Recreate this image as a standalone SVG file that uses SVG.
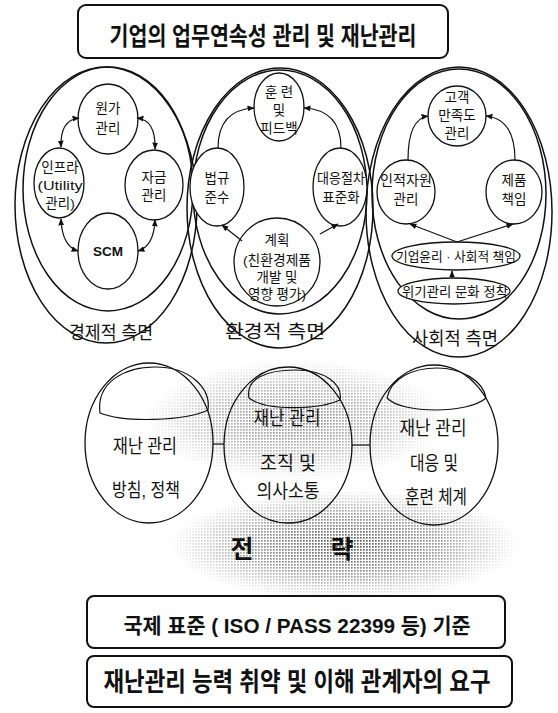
<svg xmlns="http://www.w3.org/2000/svg" width="558" height="713" viewBox="0 0 558 713">
<style>
.k{font-family:"Liberation Sans","Noto Sans CJK KR",sans-serif;fill:#111;text-anchor:middle}
.n{font-size:13.5px}
.big{stroke:#111;stroke-width:1.5;fill:none}
.nd{stroke:#111;stroke-width:1.3;fill:#fff}
.nd2{stroke:#111;stroke-width:1.3;fill:none}
.ln{stroke:#111;stroke-width:1.2;fill:none}
.bx{stroke:#111;stroke-width:2;fill:#fff}
.lbl{font-size:18px}
.lo{font-size:19px}
</style>
<defs>
<marker id="ah" viewBox="0 0 10 10" refX="9" refY="5" markerWidth="6" markerHeight="6" orient="auto-start-reverse"><path d="M0,1 L10,5 L0,9 z" fill="#111"/></marker>
<pattern id="dots" width="3" height="3" patternUnits="userSpaceOnUse"><rect width="1.7" height="1.7" fill="#555"/></pattern>
<radialGradient id="fade"><stop offset="0" stop-color="#fff" stop-opacity="1"/><stop offset="0.55" stop-color="#fff" stop-opacity="0.6"/><stop offset="1" stop-color="#fff" stop-opacity="0"/></radialGradient>
<mask id="m1"><ellipse cx="345" cy="545" rx="175" ry="55" fill="url(#fade)"/></mask>
<mask id="m2"><ellipse cx="295" cy="420" rx="150" ry="60" fill="url(#fade)"/></mask>
</defs>
<rect width="558" height="713" fill="#fff"/>

<g id="shading">
<rect x="120" y="480" width="440" height="120" fill="url(#dots)" mask="url(#m1)"/>
<rect x="130" y="350" width="340" height="140" fill="url(#dots)" mask="url(#m2)" opacity="0.7"/>
</g>

<g id="title">
<rect class="bx" x="78" y="5" width="370" height="53" rx="8"/>
<text class="k" x="263" y="45" font-size="25" font-weight="bold" textLength="307" lengthAdjust="spacingAndGlyphs">기업의 업무연속성 관리 및 재난관리</text>
</g>

<g id="economic">
<ellipse class="big" cx="106" cy="205" rx="91" ry="138"/>
<ellipse class="big" cx="108" cy="189" rx="85" ry="122"/>
<text class="k lbl" x="111" y="339" textLength="84" lengthAdjust="spacingAndGlyphs">경제적 측면</text>
</g>
<g id="environmental">
<ellipse class="big" cx="280" cy="208" rx="93" ry="140"/>
<ellipse class="big" cx="280" cy="192" rx="87" ry="122"/>
<text class="k lbl" x="275" y="338" textLength="100" lengthAdjust="spacingAndGlyphs">환경적 측면</text>
</g>
<g id="social">
<ellipse class="big" cx="459" cy="212" rx="93" ry="145"/>
<ellipse class="big" cx="459" cy="194" rx="87" ry="125"/>
<text class="k lbl" x="455" y="345" textLength="86" lengthAdjust="spacingAndGlyphs">사회적 측면</text>
</g>

<g id="wonga">
<ellipse class="nd" cx="108" cy="119" rx="30" ry="35"/>
<text class="k n" x="108" y="113">원가</text>
<text class="k n" x="108" y="133">관리</text>
</g>
<g id="infra">
<ellipse class="nd" cx="59" cy="183" rx="25" ry="35"/>
<text class="k n" x="60" y="172">인프라</text>
<text class="k n" x="60" y="190" textLength="45" lengthAdjust="spacingAndGlyphs">(Utility</text>
<text class="k n" x="60" y="208">관리)</text>
</g>
<g id="fund">
<ellipse class="nd" cx="154" cy="185" rx="29" ry="35"/>
<text class="k n" x="154" y="182">자금</text>
<text class="k n" x="154" y="200">관리</text>
</g>
<g id="scm">
<ellipse class="nd" cx="108" cy="251" rx="30" ry="38"/>
<text class="k n" x="108" y="256" font-weight="bold">SCM</text>
</g>

<g id="training">
<ellipse class="nd" cx="279" cy="107" rx="25" ry="34"/>
<text class="k n" x="279" y="97">훈 련</text>
<text class="k n" x="279" y="115">및</text>
<text class="k n" x="279" y="133">피드백</text>
</g>
<g id="law">
<ellipse class="nd" cx="217" cy="187" rx="27" ry="39"/>
<text class="k n" x="217" y="183">법규</text>
<text class="k n" x="217" y="202">준수</text>
</g>
<g id="response">
<ellipse class="nd" cx="340" cy="187" rx="27" ry="39"/>
<text class="k n" x="341" y="183" textLength="48" lengthAdjust="spacingAndGlyphs">대응절차</text>
<text class="k n" x="341" y="202">표준화</text>
</g>
<g id="plan">
<ellipse class="nd" cx="277" cy="262" rx="43" ry="44"/>
<text class="k n" x="277" y="245">계획</text>
<text class="k n" x="277" y="265" textLength="68" lengthAdjust="spacingAndGlyphs">(친환경제품</text>
<text class="k n" x="277" y="282">개발 및</text>
<text class="k n" x="277" y="299">영향 평가)</text>
</g>

<g id="customer">
<ellipse class="nd" cx="457" cy="116" rx="29" ry="30"/>
<text class="k n" x="457" y="102">고객</text>
<text class="k n" x="457" y="120">만족도</text>
<text class="k n" x="457" y="138">관리</text>
</g>
<g id="hr">
<ellipse class="nd" cx="406" cy="192" rx="29" ry="32"/>
<text class="k n" x="406" y="185" textLength="52" lengthAdjust="spacingAndGlyphs">인적자원</text>
<text class="k n" x="406" y="204">관리</text>
</g>
<g id="product">
<ellipse class="nd" cx="514" cy="192" rx="28" ry="32"/>
<text class="k n" x="514" y="185">제품</text>
<text class="k n" x="514" y="204">책임</text>
</g>
<g id="ethics">
<ellipse class="nd" cx="456" cy="256" rx="64" ry="14"/>
<text class="k" x="456" y="261" font-size="13" textLength="120" lengthAdjust="spacingAndGlyphs">기업윤리 · 사회적 책임</text>
</g>
<g id="culture">
<ellipse class="nd" cx="454" cy="291" rx="56" ry="13"/>
<text class="k" x="455" y="296" font-size="13" textLength="106" lengthAdjust="spacingAndGlyphs">위기관리 문화 정착</text>
</g>

<g id="policy">
<ellipse class="nd2" cx="149" cy="443" rx="64" ry="80"/>
<path class="ln" d="M100,413 C96,382 125,367 155,367 C190,367 211,388 208,410 C185,421 125,423 100,413 Z" stroke-width="1.6"/>
<text class="k lo" x="145" y="453" textLength="64" lengthAdjust="spacingAndGlyphs">재난 관리</text>
<text class="k lo" x="146" y="497" textLength="68" lengthAdjust="spacingAndGlyphs">방침, 정책</text>
</g>
<g id="organization">
<ellipse class="nd2" cx="288" cy="445" rx="64" ry="78"/>
<path class="ln" d="M249,398 C245,378 268,370 295,370 C325,370 343,384 340,400 C318,410 266,411 249,398 Z" stroke-width="1.6"/>
<text class="k lo" x="287" y="425" textLength="67" lengthAdjust="spacingAndGlyphs">재난 관리</text>
<text class="k lo" x="288" y="470" textLength="56" lengthAdjust="spacingAndGlyphs">조직 및</text>
<text class="k lo" x="288" y="498" textLength="63" lengthAdjust="spacingAndGlyphs">의사소통</text>
</g>
<g id="readiness">
<ellipse class="nd2" cx="434" cy="445" rx="64" ry="80"/>
<path class="ln" d="M387,398 C391,378 413,368 437,368 C462,368 483,381 486,398 C468,414 402,414 387,398 Z" stroke-width="1.3"/>
<text class="k lo" x="433" y="435" textLength="67" lengthAdjust="spacingAndGlyphs">재난 관리</text>
<text class="k lo" x="434" y="470" textLength="48" lengthAdjust="spacingAndGlyphs">대응 및</text>
<text class="k lo" x="436" y="504" textLength="62" lengthAdjust="spacingAndGlyphs">훈련 체계</text>
</g>

<g id="strategy">
<text class="k" x="242" y="558" font-size="25" font-weight="bold">전</text>
<text class="k" x="342" y="558" font-size="25" font-weight="bold">략</text>
</g>

<g id="standard">
<rect class="bx" x="87" y="596" width="418" height="52" rx="7"/>
<text class="k" x="297" y="633" font-size="21" font-weight="bold" textLength="347" lengthAdjust="spacingAndGlyphs">국제 표준 ( ISO / PASS 22399 등) 기준</text>
</g>
<g id="needs">
<rect class="bx" x="87" y="656" width="425" height="51" rx="7"/>
<text class="k" x="297" y="691" font-size="26" font-weight="bold" textLength="387" lengthAdjust="spacingAndGlyphs">재난관리 능력 취약 및 이해 관계자의 요구</text>
</g>

<g id="connectors">
<path class="ln" d="M79,118 Q60,120 61,147" marker-start="url(#ah)" marker-end="url(#ah)"/>
<path class="ln" d="M137,118 Q156,120 155,149" marker-start="url(#ah)" marker-end="url(#ah)"/>
<path class="ln" d="M61,219 Q62,246 78,251" marker-start="url(#ah)" marker-end="url(#ah)"/>
<path class="ln" d="M155,220 Q154,246 138,251" marker-start="url(#ah)" marker-end="url(#ah)"/>
<path class="ln" d="M218,148 Q218,110 254,108" marker-end="url(#ah)"/>
<path class="ln" d="M341,148 Q341,110 304,108" marker-end="url(#ah)"/>
<path class="ln" d="M242,241 L222,225" marker-end="url(#ah)"/>
<path class="ln" d="M320,234 L338,224" marker-end="url(#ah)"/>
<path class="ln" d="M408,160 Q408,119 428,116" marker-end="url(#ah)"/>
<path class="ln" d="M515,160 Q515,119 486,116" marker-end="url(#ah)"/>
<path class="ln" d="M457,242 L410,224" marker-end="url(#ah)"/>
<path class="ln" d="M457,242 L513,224" marker-end="url(#ah)"/>
<path class="ln" d="M452,278 L452,271" marker-end="url(#ah)"/>
<path class="ln" d="M213,444 L224,444"/>
<path class="ln" d="M352,445 L370,445"/>
</g>
</svg>
